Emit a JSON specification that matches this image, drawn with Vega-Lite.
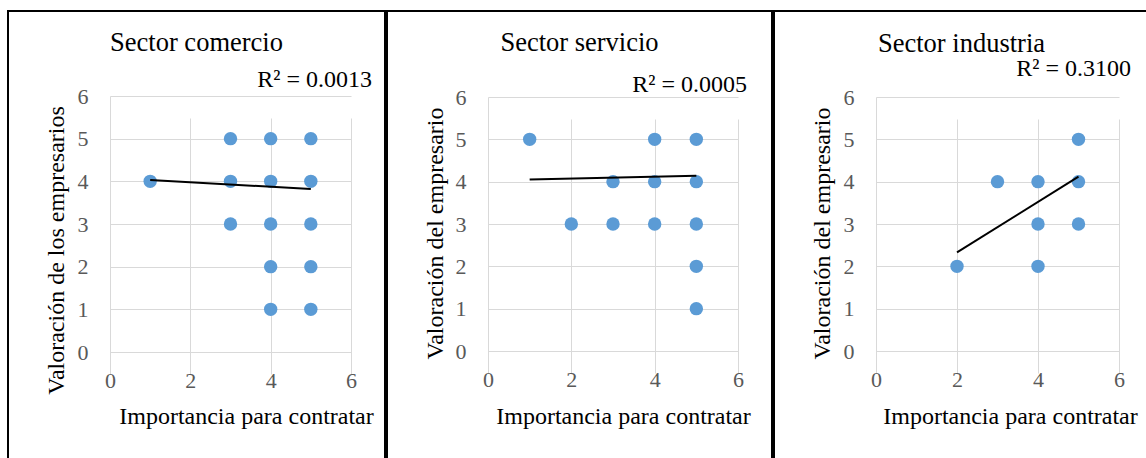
{
  "$schema": "https://vega.github.io/schema/vega-lite/v6.json",
  "background": "white",
  "padding": {"left": 7, "top": 10, "right": 0, "bottom": 0},
  "spacing": 0,
  "config": {
    "view": {"stroke": "#000000", "strokeWidth": 2},
    "font": "Liberation Serif",
    "axis": {
      "grid": true, "gridColor": "#d9d9d9", "gridWidth": 1,
      "domainColor": "#d9d9d9", "domainWidth": 1, "ticks": false, "labelFlush": false,
      "labelFont": "Liberation Serif", "labelFontSize": 22, "labelColor": "#595959", "format": "d",
      "titleFont": "Liberation Serif", "titleFontSize": 24, "titleFontWeight": "normal", "titleColor": "#000000"
    },
    "title": {"font": "Liberation Serif", "fontSize": 26.5, "fontWeight": "normal", "color": "#000000", "frame": "group", "anchor": "middle", "baseline": "alphabetic"}
  },
  "datasets": {
    "points": [
      {"sector": "comercio", "importancia": 1, "valoracion": 4},
      {"sector": "comercio", "importancia": 3, "valoracion": 5},
      {"sector": "comercio", "importancia": 3, "valoracion": 4},
      {"sector": "comercio", "importancia": 3, "valoracion": 3},
      {"sector": "comercio", "importancia": 4, "valoracion": 5},
      {"sector": "comercio", "importancia": 4, "valoracion": 4},
      {"sector": "comercio", "importancia": 4, "valoracion": 3},
      {"sector": "comercio", "importancia": 4, "valoracion": 2},
      {"sector": "comercio", "importancia": 4, "valoracion": 1},
      {"sector": "comercio", "importancia": 5, "valoracion": 5},
      {"sector": "comercio", "importancia": 5, "valoracion": 4},
      {"sector": "comercio", "importancia": 5, "valoracion": 3},
      {"sector": "comercio", "importancia": 5, "valoracion": 2},
      {"sector": "comercio", "importancia": 5, "valoracion": 1},
      {"sector": "servicio", "importancia": 1, "valoracion": 5},
      {"sector": "servicio", "importancia": 2, "valoracion": 3},
      {"sector": "servicio", "importancia": 3, "valoracion": 4},
      {"sector": "servicio", "importancia": 3, "valoracion": 3},
      {"sector": "servicio", "importancia": 4, "valoracion": 5},
      {"sector": "servicio", "importancia": 4, "valoracion": 4},
      {"sector": "servicio", "importancia": 4, "valoracion": 3},
      {"sector": "servicio", "importancia": 5, "valoracion": 5},
      {"sector": "servicio", "importancia": 5, "valoracion": 4},
      {"sector": "servicio", "importancia": 5, "valoracion": 3},
      {"sector": "servicio", "importancia": 5, "valoracion": 2},
      {"sector": "servicio", "importancia": 5, "valoracion": 1},
      {"sector": "industria", "importancia": 2, "valoracion": 2},
      {"sector": "industria", "importancia": 3, "valoracion": 4},
      {"sector": "industria", "importancia": 4, "valoracion": 4},
      {"sector": "industria", "importancia": 4, "valoracion": 3},
      {"sector": "industria", "importancia": 4, "valoracion": 2},
      {"sector": "industria", "importancia": 5, "valoracion": 5},
      {"sector": "industria", "importancia": 5, "valoracion": 4},
      {"sector": "industria", "importancia": 5, "valoracion": 3}
    ],
    "trends": [
      {"sector": "comercio", "importancia": 1, "valoracion": 4.03},
      {"sector": "comercio", "importancia": 5, "valoracion": 3.82},
      {"sector": "servicio", "importancia": 1, "valoracion": 4.05},
      {"sector": "servicio", "importancia": 5, "valoracion": 4.14},
      {"sector": "industria", "importancia": 2, "valoracion": 2.33},
      {"sector": "industria", "importancia": 5, "valoracion": 4.12}
    ],
    "labels": [
      {"sector": "comercio", "label": "R² = 0.0013"},
      {"sector": "servicio", "label": "R² = 0.0005"},
      {"sector": "industria", "label": "R² = 0.3100"}
    ]
  },
  "hconcat": [
    {
      "width": 377, "height": 448,
      "title": {"text": "Sector comercio", "offset": -45},
      "layer": [
        {
          "data": {"name": "points"},
          "transform": [{"filter": "datum.sector === 'comercio'"}],
          "mark": {"type": "circle", "size": 180, "color": "#5B9BD5", "opacity": 1},
          "encoding": {
            "x": {"field": "importancia", "type": "quantitative", "title": "Importancia para contratar",
              "scale": {"domain": [0, 6], "range": [102, 343], "nice": false, "zero": false},
              "axis": {"values": [0, 2, 4, 6], "format": "d", "labelFlush": false, "labelFont": "Liberation Serif", "labelFontSize": 22, "labelPadding": 18, "labelBaseline": "top", "offset": -107, "titleX": 238, "titleY": 71, "titleAlign": "center", "titleBaseline": "alphabetic"}},
            "y": {"field": "valoracion", "type": "quantitative", "title": "Valoración  de los empresarios",
              "scale": {"domain": [0, 6], "range": [341, 85], "nice": false, "zero": false},
              "axis": {"values": [0, 1, 2, 3, 4, 5, 6], "format": "d", "labelFlush": false, "labelFont": "Liberation Serif", "labelFontSize": 22, "labelPadding": 22, "labelBaseline": "middle", "offset": -102, "titleX": -47, "titleY": 239, "titleAngle": 270, "titleAlign": "center", "titleBaseline": "alphabetic"}}
          }
        },
        {
          "data": {"name": "trends"},
          "transform": [{"filter": "datum.sector === 'comercio'"}],
          "mark": {"type": "line", "color": "#000000", "strokeWidth": 2},
          "encoding": {
            "x": {"field": "importancia", "type": "quantitative", "title": "Importancia para contratar"},
            "y": {"field": "valoracion", "type": "quantitative", "title": "Valoración  de los empresarios"}
          }
        },
        {
          "data": {"name": "labels"},
          "transform": [{"filter": "datum.sector === 'comercio'"}],
          "mark": {"type": "text", "align": "right", "baseline": "alphabetic", "dx": 21, "dy": -9, "font": "Liberation Serif", "fontSize": 24, "color": "#000000"},
          "encoding": {
            "x": {"datum": 6, "type": "quantitative", "title": "Importancia para contratar"},
            "y": {"datum": 6, "type": "quantitative", "title": "Valoración  de los empresarios"},
            "text": {"field": "label"}
          }
        }
      ]
    },
    {
      "width": 385, "height": 448,
      "title": {"text": "Sector servicio", "offset": -45},
      "layer": [
        {
          "data": {"name": "points"},
          "transform": [{"filter": "datum.sector === 'servicio'"}],
          "mark": {"type": "circle", "size": 180, "color": "#5B9BD5", "opacity": 1},
          "encoding": {
            "x": {"field": "importancia", "type": "quantitative", "title": "Importancia para contratar",
              "scale": {"domain": [0, 6], "range": [101, 351], "nice": false, "zero": false},
              "axis": {"values": [0, 2, 4, 6], "format": "d", "labelFlush": false, "labelFont": "Liberation Serif", "labelFontSize": 22, "labelPadding": 18, "labelBaseline": "top", "offset": -108, "titleX": 236, "titleY": 72, "titleAlign": "center", "titleBaseline": "alphabetic"}},
            "y": {"field": "valoracion", "type": "quantitative", "title": "Valoración del empresario",
              "scale": {"domain": [0, 6], "range": [340, 86], "nice": false, "zero": false},
              "axis": {"values": [0, 1, 2, 3, 4, 5, 6], "format": "d", "labelFlush": false, "labelFont": "Liberation Serif", "labelFontSize": 22, "labelPadding": 22, "labelBaseline": "middle", "offset": -101, "titleX": -46, "titleY": 222, "titleAngle": 270, "titleAlign": "center", "titleBaseline": "alphabetic"}}
          }
        },
        {
          "data": {"name": "trends"},
          "transform": [{"filter": "datum.sector === 'servicio'"}],
          "mark": {"type": "line", "color": "#000000", "strokeWidth": 2},
          "encoding": {
            "x": {"field": "importancia", "type": "quantitative", "title": "Importancia para contratar"},
            "y": {"field": "valoracion", "type": "quantitative", "title": "Valoración del empresario"}
          }
        },
        {
          "data": {"name": "labels"},
          "transform": [{"filter": "datum.sector === 'servicio'"}],
          "mark": {"type": "text", "align": "right", "baseline": "alphabetic", "dx": 9, "dy": -5, "font": "Liberation Serif", "fontSize": 24, "color": "#000000"},
          "encoding": {
            "x": {"datum": 6, "type": "quantitative", "title": "Importancia para contratar"},
            "y": {"datum": 6, "type": "quantitative", "title": "Valoración del empresario"},
            "text": {"field": "label"}
          }
        }
      ]
    },
    {
      "width": 375, "height": 448,
      "title": {"text": "Sector industria", "offset": -46},
      "layer": [
        {
          "data": {"name": "points"},
          "transform": [{"filter": "datum.sector === 'industria'"}],
          "mark": {"type": "circle", "size": 180, "color": "#5B9BD5", "opacity": 1},
          "encoding": {
            "x": {"field": "importancia", "type": "quantitative", "title": "Importancia para contratar",
              "scale": {"domain": [0, 6], "range": [102, 345], "nice": false, "zero": false},
              "axis": {"values": [0, 2, 4, 6], "format": "d", "labelFlush": false, "labelFont": "Liberation Serif", "labelFontSize": 22, "labelPadding": 18, "labelBaseline": "top", "offset": -108, "titleX": 236, "titleY": 72, "titleAlign": "center", "titleBaseline": "alphabetic"}},
            "y": {"field": "valoracion", "type": "quantitative", "title": "Valoración del empresario",
              "scale": {"domain": [0, 6], "range": [340, 86], "nice": false, "zero": false},
              "axis": {"values": [0, 1, 2, 3, 4, 5, 6], "format": "d", "labelFlush": false, "labelFont": "Liberation Serif", "labelFontSize": 22, "labelPadding": 22, "labelBaseline": "middle", "offset": -102, "titleX": -47, "titleY": 222, "titleAngle": 270, "titleAlign": "center", "titleBaseline": "alphabetic"}}
          }
        },
        {
          "data": {"name": "trends"},
          "transform": [{"filter": "datum.sector === 'industria'"}],
          "mark": {"type": "line", "color": "#000000", "strokeWidth": 2},
          "encoding": {
            "x": {"field": "importancia", "type": "quantitative", "title": "Importancia para contratar"},
            "y": {"field": "valoracion", "type": "quantitative", "title": "Valoración del empresario"}
          }
        },
        {
          "data": {"name": "labels"},
          "transform": [{"filter": "datum.sector === 'industria'"}],
          "mark": {"type": "text", "align": "right", "baseline": "alphabetic", "dx": 12, "dy": -21, "font": "Liberation Serif", "fontSize": 24, "color": "#000000"},
          "encoding": {
            "x": {"datum": 6, "type": "quantitative", "title": "Importancia para contratar"},
            "y": {"datum": 6, "type": "quantitative", "title": "Valoración del empresario"},
            "text": {"field": "label"}
          }
        }
      ]
    }
  ]
}
